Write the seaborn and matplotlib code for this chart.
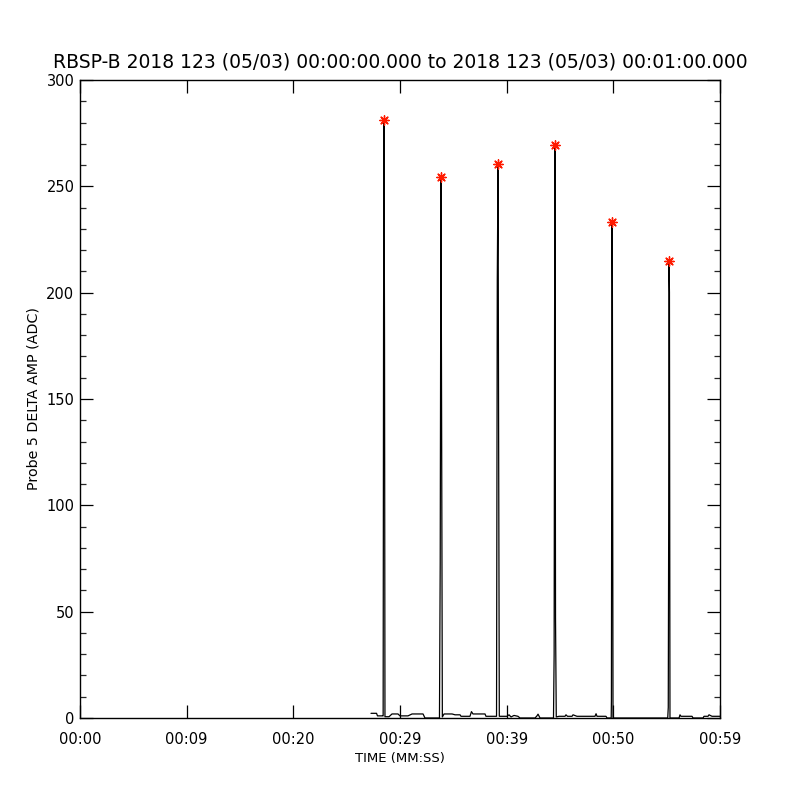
import matplotlib
matplotlib.use("Agg")
import matplotlib.pyplot as plt
import seaborn as sns
import pandas as pd
from matplotlib.ticker import MultipleLocator, FixedLocator, FixedFormatter

# ---- data (seconds since 00:00:00, ADC) ----
time_s = [27.28, 27.80, 27.89, 28.36,
          28.42, 28.46, 28.50, 28.55, 28.59,
          28.97, 29.25, 29.81, 30.00, 30.75, 31.13, 32.16, 32.34, 33.70,
          33.77, 33.84, 33.90, 33.97,
          34.13, 34.88, 35.16, 35.63, 35.72, 36.56, 36.70, 36.84, 37.97, 38.06, 39.05,
          39.12, 39.19, 39.24, 39.31,
          40.03, 40.22, 40.41, 40.69, 41.06, 41.25, 42.66, 42.84, 42.94, 43.13, 44.39,
          44.45, 44.49, 44.53, 44.58, 44.65,
          44.91, 45.47, 45.56, 45.70, 46.13, 46.22, 46.59, 48.28, 48.38, 48.47, 49.31, 49.41,
          49.80, 49.82, 49.84, 49.88, 49.91, 49.97,
          55.10, 55.15, 55.19, 55.22, 55.26, 55.31,
          56.16, 56.25, 56.34, 57.38, 57.47, 58.41, 58.50, 58.88, 58.97, 59.25, 60.00]
amp_adc = [2.2, 2.2, 1.0, 1.0,
           1.0, 190.0, 281.2, 175.0, 0.6,
           0.6, 1.9, 1.9, 1.0, 1.0, 1.9, 1.9, 0.0, 0.0,
           73.0, 254.4, 142.0, 0.5,
           1.9, 1.9, 1.5, 1.5, 0.8, 0.8, 3.0, 1.9, 1.9, 0.8, 0.8,
           206.0, 260.5, 146.0, 0.8,
           0.8, 1.5, 0.5, 1.2, 0.8, 0.0, 0.0, 1.0, 1.8, 0.0, 0.0,
           30.0, 182.0, 269.4, 47.0, 0.5,
           0.8, 0.8, 1.5, 0.8, 0.8, 1.5, 0.8, 0.8, 2.0, 0.8, 0.8, 0.0,
           0.0, 8.0, 87.0, 233.2, 203.0, 0.0,
           0.0, 5.0, 92.0, 214.9, 200.0, 0.0,
           0.0, 1.5, 0.8, 0.8, 0.0, 0.0, 0.8, 0.8, 1.5, 0.8, 0.8]

peak_time_s = [28.50, 33.84, 39.19, 44.53, 49.88, 55.22]
peak_amp_adc = [281.2, 254.4, 260.5, 269.4, 233.2, 214.9]

xtick_pos = [0, 10, 20, 30, 40, 50, 60]
xtick_labels = ["00:00", "00:09", "00:20", "00:29", "00:39", "00:50", "00:59"]

title = "RBSP-B 2018 123 (05/03) 00:00:00.000 to 2018 123 (05/03) 00:01:00.000"

sns.set_style("ticks")
plt.rcParams['font.family'] = ['DejaVu Sans']
plt.rcParams['text.color'] = 'black'
plt.rcParams['axes.labelcolor'] = 'black'

fig = plt.figure(figsize=(8, 8), dpi=100)
ax = fig.add_axes([0.1, 0.1025, 0.8, 0.7975])

df = pd.DataFrame({"t": time_s, "v": amp_adc})
sns.lineplot(data=df, x="t", y="v", estimator=None, sort=False,
             color="black", linewidth=0.9, ax=ax)
pk = pd.DataFrame({"t": peak_time_s, "v": peak_amp_adc})
sns.scatterplot(data=pk, x="t", y="v", marker=(8, 2, 0), s=45,
                color="#ff1a00", edgecolor="#ff1a00", linewidth=1.0, ax=ax, zorder=5)

ax.set_xlim(0, 60)
ax.set_ylim(0, 300)
ax.xaxis.set_major_locator(FixedLocator(xtick_pos))
ax.xaxis.set_major_formatter(FixedFormatter(xtick_labels))
ax.yaxis.set_major_locator(MultipleLocator(50))
ax.yaxis.set_minor_locator(MultipleLocator(10))

for s in ax.spines.values():
    s.set_visible(True)
    s.set_color("black")
    s.set_linewidth(1.0)

ax.tick_params(axis="both", which="major", direction="in", length=9.5, width=0.9,
               top=True, right=True, labelsize=10.5, colors="black")
ax.tick_params(axis="y", which="minor", direction="in", length=4.5, width=0.9,
               left=True, right=True)
ax.tick_params(axis="x", which="major", pad=10)
ax.tick_params(axis="y", which="major", pad=4)

ax.set_xlabel("TIME (MM:SS)", fontsize=9.5, labelpad=4, color="black")
ax.set_ylabel("Probe 5 DELTA AMP (ADC)", fontsize=10.3, labelpad=4, color="black")
ax.set_title(title, fontsize=13.5, pad=9, color="black")

fig.savefig("out.png", dpi=100, facecolor="white")
